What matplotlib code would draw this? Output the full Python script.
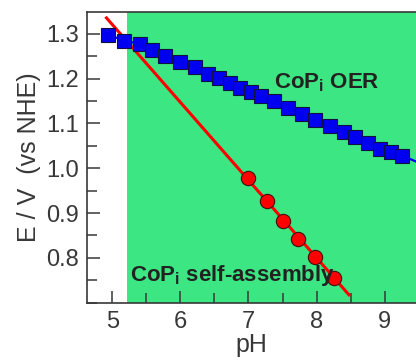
import matplotlib
matplotlib.use("Agg")
import matplotlib.pyplot as plt
from matplotlib.ticker import MultipleLocator, FormatStrFormatter

plt.rcParams['font.family'] = ['Liberation Sans', 'DejaVu Sans']
plt.rcParams['mathtext.fontset'] = 'custom'
plt.rcParams['mathtext.rm'] = 'Liberation Sans'
plt.rcParams['mathtext.bf'] = 'Liberation Sans:bold'

# CoPi OER (blue squares)
oer_ph = [4.94, 5.17, 5.41, 5.59, 5.78, 5.99, 6.21, 6.41, 6.57, 6.73, 6.88, 7.04,
          7.19, 7.38, 7.58, 7.79, 7.98, 8.20, 8.41, 8.57, 8.75, 8.93, 9.10, 9.26]
oer_E = [1.298, 1.285, 1.277, 1.263, 1.251, 1.238, 1.225, 1.211, 1.201, 1.190, 1.180, 1.170,
         1.162, 1.150, 1.134, 1.121, 1.108, 1.095, 1.080, 1.069, 1.056, 1.043, 1.036, 1.028]
# blue line continues past the last square
oer_line_ph = oer_ph + [9.60]
oer_line_E = oer_E + [1.006]

# CoPi self-assembly (red circles) and its fit line
sa_ph = [6.99, 7.27, 7.51, 7.72, 7.98, 8.25]
sa_E = [0.978, 0.927, 0.883, 0.842, 0.801, 0.755]
sa_fit_ph = [4.90, 8.49]
sa_fit_E = [1.338, 0.715]

x_ticks = [5, 6, 7, 8, 9]
y_ticks = [0.8, 0.9, 1.0, 1.1, 1.2, 1.3]

green_start = 5.21
green = '#3ce682'
dark = '#383838'

fig = plt.figure(figsize=(4.16, 3.62), dpi=100)
ax = fig.add_axes([87.3 / 416, 1 - 302.7 / 362, 1 - 87.3 / 416, (302.7 - 12.3) / 362])

ax.axvspan(green_start, 10, color=green, lw=0, zorder=0)

ax.plot(sa_fit_ph, sa_fit_E, color='#ff0000', lw=2.2, zorder=2, solid_capstyle='butt')
ax.plot(oer_line_ph, oer_line_E, color='#0000ee', lw=1.6, zorder=3)
ax.plot(oer_ph, oer_E, ls='none', marker='s', ms=9.8, mfc='#0000f0', mec='#101040',
        mew=0.8, zorder=4)
ax.plot(sa_ph, sa_E, ls='none', marker='o', ms=10.3, mfc='#ff0000', mec='#401010',
        mew=0.8, zorder=5)

ax.set_xlim(4.633, 9.46)
ax.set_ylim(0.700, 1.348)

ax.set_xticks(x_ticks)
ax.set_yticks(y_ticks)
ax.xaxis.set_minor_locator(MultipleLocator(0.5))
ax.yaxis.set_minor_locator(MultipleLocator(0.05))
ax.yaxis.set_major_formatter(FormatStrFormatter('%.1f'))
ax.tick_params(which='both', direction='in', color=dark, width=1.1, labelsize=17,
               labelcolor=dark, top=False, right=False)
ax.tick_params(which='major', length=9, pad=6)
ax.tick_params(which='minor', length=7)

for side in ['left', 'bottom', 'top']:
    ax.spines[side].set_color(dark)
    ax.spines[side].set_linewidth(1.2)
ax.spines['right'].set_visible(False)

ax.set_xlabel('pH', fontsize=18, color=dark, labelpad=0)
ax.set_ylabel('E / V  (vs NHE)', fontsize=18, color=dark, labelpad=4)

ax.text(8.15, 1.19, r'CoP$_\mathregular{i}$ OER', fontsize=16, fontweight='bold',
        color='#222222', ha='center', va='center', zorder=6)
ax.text(5.26, 0.760, r'CoP$_\mathregular{i}$ self-assembly', fontsize=16,
        fontweight='bold', color='#222222', ha='left', va='center', zorder=6)

fig.savefig('out.png', dpi=100)
